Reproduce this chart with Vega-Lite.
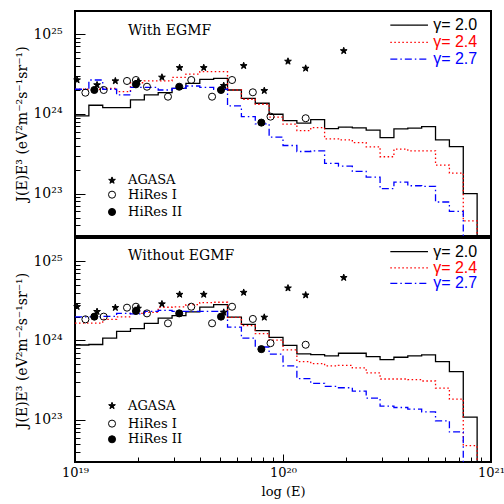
{
"$schema": "https://vega.github.io/schema/vega-lite/v6.json",
"autosize": {"type": "pad"},
"padding": {"left": 14, "top": 10, "right": 0, "bottom": 5},
"background": "white",
"spacing": 0,
"config": {
  "font": "DejaVu Serif",
  "view": {"stroke": "black", "strokeWidth": 2},
  "axis": {"grid": false, "domain": false, "labelColor": "black", "tickColor": "black", "titleColor": "black", "titleFontWeight": "normal", "labelFont": "DejaVu Serif", "titleFont": "DejaVu Serif"}
},
"datasets": {
  "histT": [
    {"g":"2.0","x":19.0,"y":23.975},{"g":"2.0","x":19.0667,"y":24.109},{"g":"2.0","x":19.1333,"y":24.079},{"g":"2.0","x":19.2,"y":24.079},{"g":"2.0","x":19.2667,"y":24.175},{"g":"2.0","x":19.3333,"y":24.238},{"g":"2.0","x":19.4,"y":24.266},{"g":"2.0","x":19.4667,"y":24.321},{"g":"2.0","x":19.5333,"y":24.384},{"g":"2.0","x":19.6,"y":24.434},{"g":"2.0","x":19.6667,"y":24.446},{"g":"2.0","x":19.7333,"y":24.30},{"g":"2.0","x":19.8,"y":24.196},{"g":"2.0","x":19.8667,"y":24.134},{"g":"2.0","x":19.9333,"y":23.996},{"g":"2.0","x":20.0,"y":23.916},{"g":"2.0","x":20.0667,"y":23.884},{"g":"2.0","x":20.1333,"y":23.929},{"g":"2.0","x":20.2,"y":23.816},{"g":"2.0","x":20.2667,"y":23.834},{"g":"2.0","x":20.3333,"y":23.825},{"g":"2.0","x":20.4,"y":23.796},{"g":"2.0","x":20.4667,"y":23.704},{"g":"2.0","x":20.5333,"y":23.813},{"g":"2.0","x":20.6,"y":23.821},{"g":"2.0","x":20.6667,"y":23.841},{"g":"2.0","x":20.7333,"y":23.675},{"g":"2.0","x":20.8,"y":23.591},{"g":"2.0","x":20.8667,"y":23.0},{"g":"2.0","x":20.9333,"y":22.0},
    {"g":"2.4","x":19.0,"y":24.309},{"g":"2.4","x":19.0667,"y":24.309},{"g":"2.4","x":19.1333,"y":24.321},{"g":"2.4","x":19.2,"y":24.279},{"g":"2.4","x":19.2667,"y":24.391},{"g":"2.4","x":19.3333,"y":24.413},{"g":"2.4","x":19.4,"y":24.413},{"g":"2.4","x":19.4667,"y":24.459},{"g":"2.4","x":19.5333,"y":24.5},{"g":"2.4","x":19.6,"y":24.529},{"g":"2.4","x":19.6667,"y":24.529},{"g":"2.4","x":19.7333,"y":24.30},{"g":"2.4","x":19.8,"y":24.184},{"g":"2.4","x":19.8667,"y":24.121},{"g":"2.4","x":19.9333,"y":23.96},{"g":"2.4","x":20.0,"y":23.871},{"g":"2.4","x":20.0667,"y":23.791},{"g":"2.4","x":20.1333,"y":23.829},{"g":"2.4","x":20.2,"y":23.688},{"g":"2.4","x":20.2667,"y":23.675},{"g":"2.4","x":20.3333,"y":23.641},{"g":"2.4","x":20.4,"y":23.588},{"g":"2.4","x":20.4667,"y":23.463},{"g":"2.4","x":20.5333,"y":23.559},{"g":"2.4","x":20.6,"y":23.538},{"g":"2.4","x":20.6667,"y":23.538},{"g":"2.4","x":20.7333,"y":23.359},{"g":"2.4","x":20.8,"y":23.259},{"g":"2.4","x":20.8667,"y":22.659},{"g":"2.4","x":20.9333,"y":22.0},
    {"g":"2.7","x":19.0,"y":24.309},{"g":"2.7","x":19.0667,"y":24.425},{"g":"2.7","x":19.1333,"y":24.309},{"g":"2.7","x":19.2,"y":24.238},{"g":"2.7","x":19.2667,"y":24.334},{"g":"2.7","x":19.3333,"y":24.334},{"g":"2.7","x":19.4,"y":24.30},{"g":"2.7","x":19.4667,"y":24.321},{"g":"2.7","x":19.5333,"y":24.35},{"g":"2.7","x":19.6,"y":24.334},{"g":"2.7","x":19.6667,"y":24.309},{"g":"2.7","x":19.7333,"y":24.10},{"g":"2.7","x":19.8,"y":23.966},{"g":"2.7","x":19.8667,"y":23.875},{"g":"2.7","x":19.9333,"y":23.71},{"g":"2.7","x":20.0,"y":23.604},{"g":"2.7","x":20.0667,"y":23.529},{"g":"2.7","x":20.1333,"y":23.538},{"g":"2.7","x":20.2,"y":23.379},{"g":"2.7","x":20.2667,"y":23.346},{"g":"2.7","x":20.3333,"y":23.279},{"g":"2.7","x":20.4,"y":23.209},{"g":"2.7","x":20.4667,"y":23.063},{"g":"2.7","x":20.5333,"y":23.146},{"g":"2.7","x":20.6,"y":23.10},{"g":"2.7","x":20.6667,"y":23.091},{"g":"2.7","x":20.7333,"y":22.896},{"g":"2.7","x":20.8,"y":22.779},{"g":"2.7","x":20.8667,"y":22.0}
  ],
  "histB": [
    {"g":"2.0","x":19.0,"y":23.943},{"g":"2.0","x":19.0667,"y":23.949},{"g":"2.0","x":19.1333,"y":24.029},{"g":"2.0","x":19.2,"y":24.114},{"g":"2.0","x":19.2667,"y":24.149},{"g":"2.0","x":19.3333,"y":24.215},{"g":"2.0","x":19.4,"y":24.282},{"g":"2.0","x":19.4667,"y":24.314},{"g":"2.0","x":19.5333,"y":24.361},{"g":"2.0","x":19.6,"y":24.420},{"g":"2.0","x":19.6667,"y":24.452},{"g":"2.0","x":19.7333,"y":24.294},{"g":"2.0","x":19.8,"y":24.203},{"g":"2.0","x":19.8667,"y":24.123},{"g":"2.0","x":19.9333,"y":24.038},{"g":"2.0","x":20.0,"y":23.937},{"g":"2.0","x":20.0667,"y":23.832},{"g":"2.0","x":20.1333,"y":23.823},{"g":"2.0","x":20.2,"y":23.806},{"g":"2.0","x":20.2667,"y":23.839},{"g":"2.0","x":20.3333,"y":23.839},{"g":"2.0","x":20.4,"y":23.797},{"g":"2.0","x":20.4667,"y":23.759},{"g":"2.0","x":20.5333,"y":23.789},{"g":"2.0","x":20.6,"y":23.806},{"g":"2.0","x":20.6667,"y":23.819},{"g":"2.0","x":20.7333,"y":23.734},{"g":"2.0","x":20.8,"y":23.608},{"g":"2.0","x":20.8667,"y":23.034},{"g":"2.0","x":20.9333,"y":22.0},
    {"g":"2.4","x":19.0,"y":24.219},{"g":"2.4","x":19.0667,"y":24.219},{"g":"2.4","x":19.1333,"y":24.266},{"g":"2.4","x":19.2,"y":24.297},{"g":"2.4","x":19.2667,"y":24.342},{"g":"2.4","x":19.3333,"y":24.354},{"g":"2.4","x":19.4,"y":24.418},{"g":"2.4","x":19.4667,"y":24.424},{"g":"2.4","x":19.5333,"y":24.452},{"g":"2.4","x":19.6,"y":24.477},{"g":"2.4","x":19.6667,"y":24.481},{"g":"2.4","x":19.7333,"y":24.291},{"g":"2.4","x":19.8,"y":24.186},{"g":"2.4","x":19.8667,"y":24.086},{"g":"2.4","x":19.9333,"y":24.004},{"g":"2.4","x":20.0,"y":23.882},{"g":"2.4","x":20.0667,"y":23.734},{"g":"2.4","x":20.1333,"y":23.709},{"g":"2.4","x":20.2,"y":23.680},{"g":"2.4","x":20.2667,"y":23.687},{"g":"2.4","x":20.3333,"y":23.654},{"g":"2.4","x":20.4,"y":23.591},{"g":"2.4","x":20.4667,"y":23.515},{"g":"2.4","x":20.5333,"y":23.515},{"g":"2.4","x":20.6,"y":23.506},{"g":"2.4","x":20.6667,"y":23.490},{"g":"2.4","x":20.7333,"y":23.401},{"g":"2.4","x":20.8,"y":23.262},{"g":"2.4","x":20.8667,"y":22.675},{"g":"2.4","x":20.9333,"y":22.0},
    {"g":"2.7","x":19.0,"y":24.297},{"g":"2.7","x":19.0667,"y":24.297},{"g":"2.7","x":19.1333,"y":24.304},{"g":"2.7","x":19.2,"y":24.342},{"g":"2.7","x":19.2667,"y":24.335},{"g":"2.7","x":19.3333,"y":24.367},{"g":"2.7","x":19.4,"y":24.380},{"g":"2.7","x":19.4667,"y":24.367},{"g":"2.7","x":19.5333,"y":24.367},{"g":"2.7","x":19.6,"y":24.367},{"g":"2.7","x":19.6667,"y":24.367},{"g":"2.7","x":19.7333,"y":24.168},{"g":"2.7","x":19.8,"y":24.029},{"g":"2.7","x":19.8667,"y":23.918},{"g":"2.7","x":19.9333,"y":23.827},{"g":"2.7","x":20.0,"y":23.680},{"g":"2.7","x":20.0667,"y":23.519},{"g":"2.7","x":20.1333,"y":23.459},{"g":"2.7","x":20.2,"y":23.422},{"g":"2.7","x":20.2667,"y":23.405},{"g":"2.7","x":20.3333,"y":23.363},{"g":"2.7","x":20.4,"y":23.275},{"g":"2.7","x":20.4667,"y":23.174},{"g":"2.7","x":20.5333,"y":23.156},{"g":"2.7","x":20.6,"y":23.136},{"g":"2.7","x":20.6667,"y":23.101},{"g":"2.7","x":20.7333,"y":22.987},{"g":"2.7","x":20.8,"y":22.848},{"g":"2.7","x":20.8667,"y":22.0}
  ],
  "obs": [
    {"s":"AGASA","x":19.01,"y":24.425},{"s":"AGASA","x":19.106,"y":24.363},{"s":"AGASA","x":19.194,"y":24.413},{"s":"AGASA","x":19.303,"y":24.404},{"s":"AGASA","x":19.418,"y":24.459},{"s":"AGASA","x":19.503,"y":24.579},{"s":"AGASA","x":19.619,"y":24.579},{"s":"AGASA","x":19.715,"y":24.354},{"s":"AGASA","x":19.811,"y":24.604},{"s":"AGASA","x":19.91,"y":24.291},{"s":"AGASA","x":20.024,"y":24.659},{"s":"AGASA","x":20.109,"y":24.571},{"s":"AGASA","x":20.292,"y":24.791},
    {"s":"HiRes I","x":19.05,"y":24.266},{"s":"HiRes I","x":19.138,"y":24.30},{"s":"HiRes I","x":19.25,"y":24.413},{"s":"HiRes I","x":19.293,"y":24.425},{"s":"HiRes I","x":19.346,"y":24.341},{"s":"HiRes I","x":19.447,"y":24.216},{"s":"HiRes I","x":19.559,"y":24.425},{"s":"HiRes I","x":19.659,"y":24.216},{"s":"HiRes I","x":19.755,"y":24.425},{"s":"HiRes I","x":19.855,"y":24.271},{"s":"HiRes I","x":19.94,"y":23.966},{"s":"HiRes I","x":20.109,"y":23.946},
    {"s":"HiRes II","x":19.093,"y":24.30},{"s":"HiRes II","x":19.293,"y":24.371},{"s":"HiRes II","x":19.501,"y":24.341},{"s":"HiRes II","x":19.702,"y":24.30},{"s":"HiRes II","x":19.896,"y":23.891}
  ],
  "keyT": [
    {"s":"AGASA","x":19.178,"y":23.166,"tx":19.255,"t":"AGASA"},
    {"s":"HiRes I","x":19.178,"y":22.988,"tx":19.255,"t":"HiRes I"},
    {"s":"HiRes II","x":19.178,"y":22.771,"tx":19.255,"t":"HiRes II"}
  ],
  "keyB": [
    {"s":"AGASA","x":19.178,"y":23.177,"tx":19.255,"t":"AGASA"},
    {"s":"HiRes I","x":19.178,"y":22.953,"tx":19.255,"t":"HiRes I"},
    {"s":"HiRes II","x":19.178,"y":22.756,"tx":19.255,"t":"HiRes II"}
  ],
  "legT": [
    {"g":"2.0","x":20.516,"y":25.1125},{"g":"2.0","x":20.697,"y":25.1125},
    {"g":"2.4","x":20.516,"y":24.896},{"g":"2.4","x":20.697,"y":24.896},
    {"g":"2.7","x":20.516,"y":24.6875},{"g":"2.7","x":20.697,"y":24.6875}
  ],
  "legB": [
    {"g":"2.0","x":20.516,"y":25.118},{"g":"2.0","x":20.697,"y":25.118},
    {"g":"2.4","x":20.516,"y":24.915},{"g":"2.4","x":20.697,"y":24.915},
    {"g":"2.7","x":20.516,"y":24.718},{"g":"2.7","x":20.697,"y":24.718}
  ],
  "legTxtT": [
    {"g":"2.0","x":20.722,"y":25.1125,"t":"γ=  2.0"},
    {"g":"2.4","x":20.722,"y":24.896,"t":"γ=  2.4"},
    {"g":"2.7","x":20.722,"y":24.6875,"t":"γ=  2.7"}
  ],
  "legTxtB": [
    {"g":"2.0","x":20.722,"y":25.118,"t":"γ=  2.0"},
    {"g":"2.4","x":20.722,"y":24.915,"t":"γ=  2.4"},
    {"g":"2.7","x":20.722,"y":24.718,"t":"γ=  2.7"}
  ],
  "titleT": [{"x":19.255,"y":25.04,"t":"With EGMF"}],
  "titleB": [{"x":19.255,"y":25.063,"t":"Without EGMF"}]
},
"vconcat": [
  {
    "width": 416, "height": 225,
    "encoding": {
      "x": {"field": "x", "type": "quantitative", "scale": {"domain": [19, 21], "nice": false, "zero": false}, "axis": null},
      "y": {"field": "y", "type": "quantitative", "scale": {"domain": [22.47, 25.29], "nice": false, "zero": false},
        "axis": {"title": "J(E)E³ (eV²m⁻²s⁻¹sr⁻¹)", "values": [22.60206,22.69897,22.77815,22.8451,22.90309,22.95424,23,23.30103,23.47712,23.60206,23.69897,23.77815,23.8451,23.90309,23.95424,24,24.30103,24.47712,24.60206,24.69897,24.77815,24.8451,24.90309,24.95424,25],
          "labelExpr": "datum.value==23?'10²³':datum.value==24?'10²⁴':datum.value==25?'10²⁵':''",
          "tickSize": {"condition": {"test": "datum.value%1==0", "value": -10}, "value": -5},
          "labelPadding": 23, "labelFontSize": 14, "titleFontSize": 14, "titlePadding": 3}}
    },
    "layer": [
      {"data": {"name": "histT"}, "mark": {"type": "line", "interpolate": "step-after", "clip": true, "strokeWidth": 1.3},
        "encoding": {"detail": {"field": "g"},
          "color": {"field": "g", "type": "nominal", "scale": {"domain": ["2.0","2.4","2.7"], "range": ["#000000","#ff0000","#0000ff"]}, "legend": null},
          "strokeDash": {"field": "g", "type": "nominal", "scale": {"domain": ["2.0","2.4","2.7"], "range": [[1,0],[1.5,2.5],[7,3,1.5,3]]}, "legend": null}}},
      {"data": {"name": "legT"}, "mark": {"type": "line", "strokeWidth": 1.3},
        "encoding": {"detail": {"field": "g"},
          "color": {"field": "g", "type": "nominal", "legend": null},
          "strokeDash": {"field": "g", "type": "nominal", "legend": null}}},
      {"data": {"name": "legTxtT"},
        "mark": {"type": "text", "align": "left", "baseline": "middle", "font": "Liberation Sans", "fontSize": 16},
        "encoding": {"text": {"field": "t"},
          "color": {"field": "g", "type": "nominal", "legend": null}}},
      {"data": {"name": "obs"}, "mark": {"type": "point", "filled": true, "size": 50, "stroke": "black", "strokeWidth": 1, "opacity": 1},
        "encoding": {
          "shape": {"field": "s", "type": "nominal", "scale": {"domain": ["AGASA","HiRes I","HiRes II"], "range": ["M0,-1L0.235,-0.324L0.951,-0.309L0.38,0.124L0.588,0.809L0,0.4L-0.588,0.809L-0.38,0.124L-0.951,-0.309L-0.235,-0.324Z","circle","circle"]}, "legend": null},
          "fill": {"field": "s", "type": "nominal", "scale": {"domain": ["AGASA","HiRes I","HiRes II"], "range": ["black","transparent","black"]}, "legend": null}}},
      {"data": {"name": "keyT"}, "mark": {"type": "point", "filled": true, "size": 50, "stroke": "black", "strokeWidth": 1, "opacity": 1},
        "encoding": {
          "shape": {"field": "s", "type": "nominal", "legend": null},
          "fill": {"field": "s", "type": "nominal", "legend": null}}},
      {"data": {"name": "keyT"}, "mark": {"type": "text", "align": "left", "baseline": "middle", "fontSize": 13, "font": "DejaVu Serif", "color": "black"},
        "encoding": {"x": {"field": "tx", "type": "quantitative"}, "text": {"field": "t"}}},
      {"data": {"name": "titleT"}, "mark": {"type": "text", "align": "left", "baseline": "middle", "fontSize": 14, "font": "DejaVu Serif", "color": "black"},
        "encoding": {"text": {"field": "t"}}}
    ]
  },
  {
    "width": 416, "height": 224,
    "encoding": {
      "x": {"field": "x", "type": "quantitative", "scale": {"domain": [19, 21], "nice": false, "zero": false},
        "axis": {"title": "log (E)", "values": [19,19.30103,19.47712,19.60206,19.69897,19.77815,19.8451,19.90309,19.95424,20,20.30103,20.47712,20.60206,20.69897,20.77815,20.8451,20.90309,20.95424,21],
          "labelExpr": "datum.value==19?'10¹⁹':datum.value==20?'10²⁰':datum.value==21?'10²¹':''",
          "tickSize": {"condition": {"test": "datum.value%1==0", "value": -8}, "value": -5},
          "labelFlush": false, "labelOverlap": false, "labelPadding": 12, "labelFontSize": 13, "titleFontSize": 13, "titlePadding": 3}},
      "y": {"field": "y", "type": "quantitative", "scale": {"domain": [22.47, 25.29], "nice": false, "zero": false},
        "axis": {"title": "J(E)E³ (eV²m⁻²s⁻¹sr⁻¹)", "values": [22.60206,22.69897,22.77815,22.8451,22.90309,22.95424,23,23.30103,23.47712,23.60206,23.69897,23.77815,23.8451,23.90309,23.95424,24,24.30103,24.47712,24.60206,24.69897,24.77815,24.8451,24.90309,24.95424,25],
          "labelExpr": "datum.value==23?'10²³':datum.value==24?'10²⁴':datum.value==25?'10²⁵':''",
          "tickSize": {"condition": {"test": "datum.value%1==0", "value": -10}, "value": -5},
          "labelPadding": 23, "labelFontSize": 14, "titleFontSize": 14, "titlePadding": 3}}
    },
    "layer": [
      {"data": {"name": "histB"}, "mark": {"type": "line", "interpolate": "step-after", "clip": true, "strokeWidth": 1.3},
        "encoding": {"detail": {"field": "g"},
          "color": {"field": "g", "type": "nominal", "scale": {"domain": ["2.0","2.4","2.7"], "range": ["#000000","#ff0000","#0000ff"]}, "legend": null},
          "strokeDash": {"field": "g", "type": "nominal", "scale": {"domain": ["2.0","2.4","2.7"], "range": [[1,0],[1.5,2.5],[7,3,1.5,3]]}, "legend": null}}},
      {"data": {"name": "legB"}, "mark": {"type": "line", "strokeWidth": 1.3},
        "encoding": {"detail": {"field": "g"},
          "color": {"field": "g", "type": "nominal", "legend": null},
          "strokeDash": {"field": "g", "type": "nominal", "legend": null}}},
      {"data": {"name": "legTxtB"},
        "mark": {"type": "text", "align": "left", "baseline": "middle", "font": "Liberation Sans", "fontSize": 16},
        "encoding": {"text": {"field": "t"},
          "color": {"field": "g", "type": "nominal", "legend": null}}},
      {"data": {"name": "obs"}, "mark": {"type": "point", "filled": true, "size": 50, "stroke": "black", "strokeWidth": 1, "opacity": 1},
        "encoding": {
          "shape": {"field": "s", "type": "nominal", "scale": {"domain": ["AGASA","HiRes I","HiRes II"], "range": ["M0,-1L0.235,-0.324L0.951,-0.309L0.38,0.124L0.588,0.809L0,0.4L-0.588,0.809L-0.38,0.124L-0.951,-0.309L-0.235,-0.324Z","circle","circle"]}, "legend": null},
          "fill": {"field": "s", "type": "nominal", "scale": {"domain": ["AGASA","HiRes I","HiRes II"], "range": ["black","transparent","black"]}, "legend": null}}},
      {"data": {"name": "keyB"}, "mark": {"type": "point", "filled": true, "size": 50, "stroke": "black", "strokeWidth": 1, "opacity": 1},
        "encoding": {
          "shape": {"field": "s", "type": "nominal", "legend": null},
          "fill": {"field": "s", "type": "nominal", "legend": null}}},
      {"data": {"name": "keyB"}, "mark": {"type": "text", "align": "left", "baseline": "middle", "fontSize": 13, "font": "DejaVu Serif", "color": "black"},
        "encoding": {"x": {"field": "tx", "type": "quantitative"}, "text": {"field": "t"}}},
      {"data": {"name": "titleB"}, "mark": {"type": "text", "align": "left", "baseline": "middle", "fontSize": 14, "font": "DejaVu Serif", "color": "black"},
        "encoding": {"text": {"field": "t"}}}
    ]
  }
]
}
